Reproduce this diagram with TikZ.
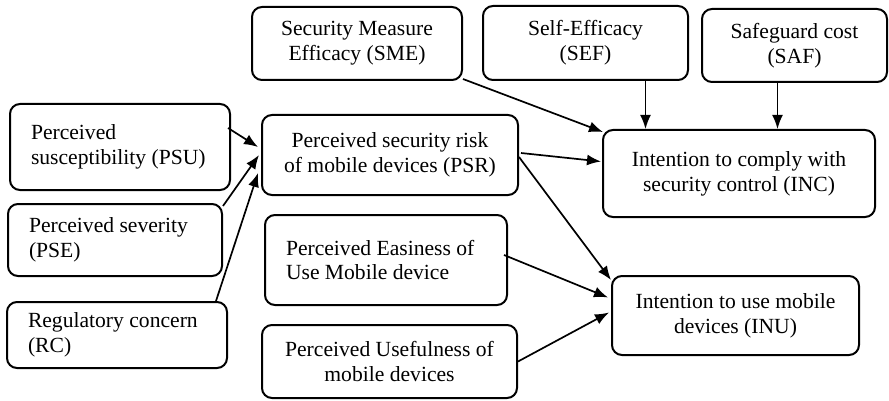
\documentclass[tikz,border=0pt]{standalone}
\usepackage{fontspec}
\setmainfont{Liberation Serif}
\usetikzlibrary{positioning,arrows.meta}
\tikzstyle{construct} = [rectangle, draw, line width=2pt, rounded corners=10pt, inner sep=2pt, font=\fontsize{21.6}{25}\selectfont]
\tikzstyle{line} = [draw, line width=1.7pt, -{Latex[length=14pt,width=11pt]}]
\newcommand{\nodebox}[2]{\parbox[c]{#1}{\centering #2}}
\newcommand{\leftbox}[2]{\parbox[c]{#1}{\raggedright #2}}

\begin{document}
\begin{tikzpicture}[x=1pt, y=-1pt]
\useasboundingbox (0,0) rectangle (889,401);
% Security risk antecedents
    \node [construct, minimum width=220pt, minimum height=86pt] (psu) at (120,147) {\leftbox{178pt}{Perceived\\susceptibility (PSU)}};
    \node [construct, minimum width=214pt, minimum height=72pt] (pse) at (115,240) {\leftbox{172pt}{Perceived severity\\(PSE)}};
    \node [construct, minimum width=220pt, minimum height=66pt] (rc) at (117,335) {\leftbox{178pt}{Regulatory concern\\(RC)}};
    \node [construct, minimum width=256pt, minimum height=80pt] (psr) at (390,155) {\nodebox{240pt}{Perceived security risk\\of mobile devices (PSR)}};
% Compliance side
    \node [construct, minimum width=210pt, minimum height=73pt] (sme) at (357,43.5) {\nodebox{200pt}{Security Measure\\Efficacy (SME)}};
    \node [construct, minimum width=205pt, minimum height=74pt] (sef) at (585.5,43) {\nodebox{195pt}{Self-Efficacy\\(SEF)}};
    \node [construct, minimum width=185pt, minimum height=73pt] (saf) at (794.5,45.5) {\nodebox{175pt}{Safeguard cost\\(SAF)}};
    \node [construct, minimum width=272pt, minimum height=87pt] (inc) at (739,173.5) {\nodebox{260pt}{Intention to comply with\\security control (INC)}};
% Usage side
    \node [construct, minimum width=242pt, minimum height=90pt] (peu) at (386,260) {\leftbox{200pt}{Perceived Easiness of\\Use Mobile device}};
    \node [construct, minimum width=255pt, minimum height=73pt] (puf) at (389.5,361.5) {\nodebox{245pt}{Perceived Usefulness of\\mobile devices}};
    \node [construct, minimum width=247pt, minimum height=79pt] (inu) at (735.5,315.5) {\nodebox{237pt}{Intention to use mobile\\devices (INU)}};

    \path [line] ([shift={(-3,-19)}]psu.east) -- ([shift={(-3,-8)}]psr.west);
    \path [line] ([shift={(0,3)}]pse.north east) -- ([shift={(-2,0)}]psr.west);
    \path [line] ([shift={(-12,0)}]rc.north east) -- ([shift={(-3,18)}]psr.west);
    \path [line] ([shift={(0,-2)}]sme.south east) -- ([shift={(1,3)}]inc.north west);
    \path [line] ([shift={(60,0)}]sef.south) -- ([shift={(60,0)}]sef.south |- inc.north);
    \path [line] ([shift={(-17,0)}]saf.south) -- ([shift={(-17,0)}]saf.south |- inc.north);
    \path [line] ([shift={(2,-2)}]psr.east) -- ([shift={(-1,-12)}]inc.west);
    \path [line] ([shift={(0,2)}]psr.east) -- ([shift={(0,5)}]inu.north west);
    \path [line] ([shift={(-4,-5)}]peu.east) -- ([shift={(-3,-18)}]inu.west);
    \path [line] (puf.east) -- ([shift={(-2,-3)}]inu.west);
\end{tikzpicture}
\end{document}
